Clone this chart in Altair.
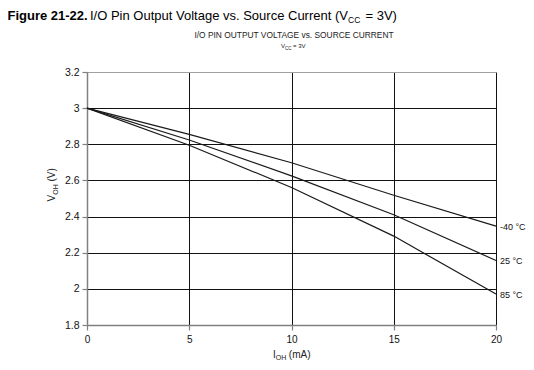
import altair as alt
import pandas as pd

# ---- data ----
current_ma = [0, 5, 10, 15, 20]
v_m40 = [3.0, 2.855, 2.698, 2.518, 2.347]
v_25 = [3.0, 2.824, 2.625, 2.410, 2.157]
v_85 = [3.0, 2.795, 2.561, 2.292, 1.971]
series_names = ["-40 °C", "25 °C", "85 °C"]
x_ticks = [0, 5, 10, 15, 20]
y_ticks = [1.8, 2.0, 2.2, 2.4, 2.6, 2.8, 3.0, 3.2]

rows = []
for name, vals in zip(series_names, [v_m40, v_25, v_85]):
    for x, v in zip(current_ma, vals):
        rows.append({"I": x, "V": v, "T": name})
df = pd.DataFrame(rows)
last = df[df["I"] == current_ma[-1]]

F = "Liberation Sans"
W, H = 409, 253
OX, OY = 87, 72  # page position of plot origin

xs = alt.Scale(domain=[0, 20], nice=False)
ys = alt.Scale(domain=[1.8, 3.2], nice=False, zero=False)

x_axis = alt.Axis(values=x_ticks, title=None, labelFont=F, labelFontSize=10, labelColor="#111",
                  domainColor="#808080", domainWidth=1.5, tickColor="#808080", tickSize=5,
                  tickWidth=1.2, labelPadding=4, labelAngle=0, labelOverlap=False,
                  labelFlush=False,
                  gridColor=alt.condition("datum.value <= 0.01", alt.value("#a0a0a0"), alt.value("#111111")),
                  gridWidth=1)
y_axis = alt.Axis(values=y_ticks, title=None, format="~g", labelFont=F, labelFontSize=10.5,
                  labelColor="#111", domainColor="#808080", domainWidth=1.5, tickColor="#808080",
                  tickSize=5, tickWidth=1.2, labelPadding=3, labelOverlap=False, labelFlush=False,
                  gridColor=alt.condition("datum.value >= 3.19 || datum.value <= 1.81",
                                          alt.value("#a0a0a0"), alt.value("#111111")),
                  gridWidth=1)

lines = alt.Chart(df).mark_line(color="#1a1a1a", strokeWidth=1.2).encode(
    x=alt.X("I:Q", scale=xs, axis=x_axis),
    y=alt.Y("V:Q", scale=ys, axis=y_axis),
    detail="T:N",
)

labels = alt.Chart(last).mark_text(align="left", baseline="middle", dx=4, dy=1, font=F,
                                   fontSize=9, color="#111").encode(
    x=alt.X("I:Q", scale=xs, axis=x_axis), y=alt.Y("V:Q", scale=ys, axis=y_axis), text="T:N")

one = pd.DataFrame({"a": [0]})


def txt(s, px, py, size, weight="normal", angle=0, align="left", color="#000"):
    return alt.Chart(one).mark_text(text=s, font=F, fontSize=size, fontWeight=weight,
                                    angle=angle, align=align, baseline="alphabetic",
                                    color=color).encode(
        x=alt.value(px - OX), y=alt.value(py - OY))


texts = [
    txt("Figure 21-22.", 7.5, 20, 13, weight="bold"),
    txt("I/O Pin Output Voltage vs. Source Current (V", 90, 20, 13),
    txt("CC", 348, 23, 8.5),
    txt("= 3V)", 365.5, 20, 13),
    txt("I/O PIN OUTPUT VOLTAGE vs. SOURCE CURRENT", 294, 38, 8.4, align="center", color="#222"),
    txt("V", 281, 48, 6, color="#222"),
    txt("CC", 285, 49.5, 4.5, color="#222"),
    txt("= 3V", 293, 48, 6, color="#222"),
    # y title (rotated)
    txt("V", 55, 201.5, 10, angle=270, color="#222"),
    txt("OH", 57.5, 194.8, 7, angle=270, color="#222"),
    txt("(V)", 55, 181.5, 10, angle=270, color="#222"),
    # x title
    txt("I", 273, 358, 10, color="#222"),
    txt("OH", 275.7, 360, 7, color="#222"),
    txt("(mA)", 288.8, 358, 10, color="#222"),
]

chart = alt.layer(lines, labels, *texts).properties(
    width=W, height=H,
    autosize=alt.AutoSizeParams(type="none"),
    padding={"left": 79, "top": 64, "right": 30, "bottom": 36},
).configure_view(stroke=None).configure(background="white")

chart.save("out.html", embed_options={"renderer": "svg", "actions": False})
